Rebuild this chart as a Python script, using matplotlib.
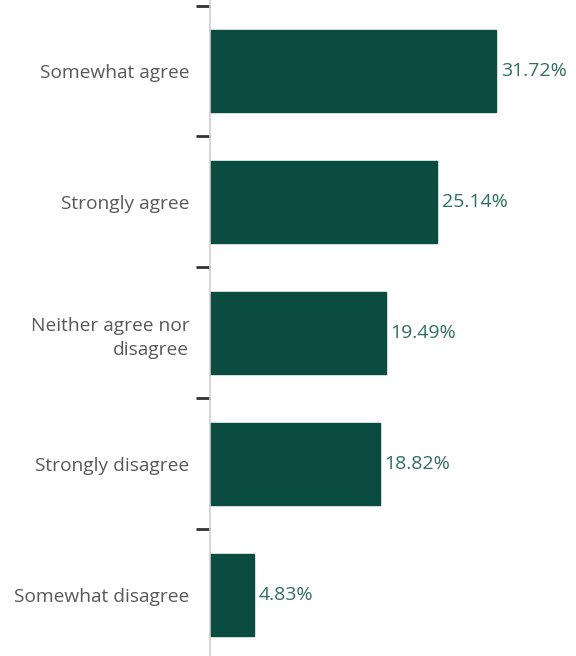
import matplotlib
matplotlib.use("Agg")
import matplotlib.pyplot as plt
from matplotlib.ticker import FixedLocator

categories = ["Somewhat agree", "Strongly agree", "Neither agree nor\ndisagree",
              "Strongly disagree", "Somewhat disagree"]
values = [31.72, 25.14, 19.49, 18.82, 4.83]
value_labels = ["31.72%", "25.14%", "19.49%", "18.82%", "4.83%"]

plt.rcParams['font.family'] = ['Open Sans', 'DejaVu Sans']

fig = plt.figure(figsize=(5.76, 6.56), dpi=100)
ax = fig.add_axes([210/576, 0, 366/576, 1])

ypos = list(range(len(categories)))
ax.barh(ypos, values, height=0.62, color="#0a4d40", edgecolor="#0a4d40")
for y, v, lab in zip(ypos, values, value_labels):
    ax.text(v + 0.55, y, lab, va="center", ha="left", fontsize=14, color="#2f6e60")

ax.set_xlim(0, 40.6)
ax.set_ylim(4.466, -0.542)
ax.set_yticks(ypos)
ax.set_yticklabels(categories, fontsize=13.8, color="#595959", ha="right", linespacing=1.45)
ax.tick_params(axis="y", which="major", length=0, pad=15)
ax.yaxis.set_minor_locator(FixedLocator([-0.5, 0.5, 1.5, 2.5, 3.5]))
ax.tick_params(axis="y", which="minor", length=10, width=2, color="#333333")
ax.set_xticks([])
for s in ["top", "right", "bottom"]:
    ax.spines[s].set_visible(False)
ax.spines["left"].set_color("#cfcfcf")
ax.spines["left"].set_linewidth(1.2)

fig.savefig("out.png", dpi=100)
